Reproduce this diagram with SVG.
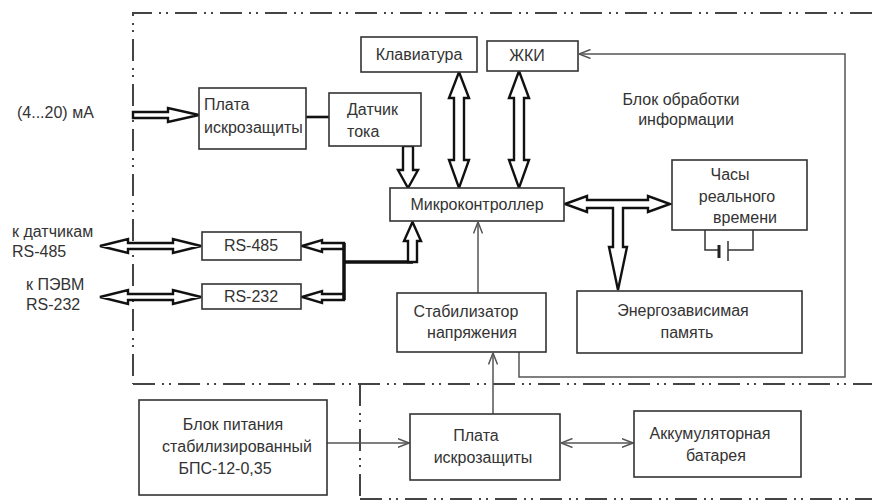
<svg xmlns="http://www.w3.org/2000/svg" width="872" height="502" viewBox="0 0 872 502">
<defs>
<style>
.bx{fill:#fff;stroke:#333;stroke-width:1.6}
.t{font-family:"Liberation Sans","DejaVu Sans",sans-serif;font-size:16px;fill:#333}
.m{text-anchor:middle}
.bd{fill:none;stroke:#444;stroke-width:2;stroke-dasharray:22 7 2 5 2 7}
.blk{fill:#fff;stroke:#111;stroke-width:2.4;stroke-linejoin:miter}
.thk{fill:none;stroke:#111;stroke-width:3.5}
.thin{fill:none;stroke:#555;stroke-width:1.5}
</style>
<marker id="oa" viewBox="0 0 12 10" refX="11.5" refY="5" markerWidth="12" markerHeight="10" markerUnits="userSpaceOnUse" orient="auto-start-reverse">
<path d="M0,0.5 L11.5,5 L0,9.5" fill="none" stroke="#555" stroke-width="1.5"/>
</marker>
</defs>
<rect width="872" height="502" fill="#fff"/>

<g id="borders">
<path class="bd" d="M872,13 H133 V384"/>
<path class="bd" d="M133,384 H872"/>
<path class="bd" d="M360,384 V502"/>
<path class="bd" d="M360,499 H872"/>
</g>

<g id="connectors">
<polygon class="blk" points="133,112 168,112 168,108 199,115 168,122 168,118 133,118"/>
<line x1="306" y1="117" x2="329" y2="117" stroke="#111" stroke-width="2.6"/>
<polygon class="blk" points="403,146 413,146 413,170 418,170 408,188 398,170 403,170"/>
<polygon class="blk" points="459,72 469,98 464,98 464,160 469,160 459,188 449,160 454,160 454,98 449,98"/>
<polygon class="blk" points="519,71 529,98 524,98 524,160 529,160 519,188 509,160 514,160 514,98 509,98"/>
<polygon class="blk" points="565,204 587,196 587,200 648,200 648,196 670,204 648,212 648,208 623,208 623,247 627,247 618,290 609,247 613,247 613,208 587,208 587,212"/>
<polygon class="blk" points="100,246 128,239 128,243 173,243 173,239 201,246 173,253 173,249 128,249 128,253"/>
<polygon class="blk" points="100,297 128,290 128,294 173,294 173,290 201,297 173,304 173,300 128,300 128,304"/>
<polygon class="blk" points="302,246 322,240 322,243 344,243 344,249 322,249 322,252"/>
<polygon class="blk" points="302,297 322,291 322,294 344,294 344,300 322,300 322,303"/>
<path class="thk" d="M344,243 V300 M344,262 H413"/>
<polygon class="blk" points="408,262 408,241 404,241 412.5,222 421,241 417,241 417,262"/>
<path class="thin" d="M478,293 V222" marker-end="url(#oa)"/>
<path class="thin" d="M519,352 V377 H845 V54 H579" marker-end="url(#oa)"/>
<path class="thin" d="M493,414 V353" marker-end="url(#oa)"/>
<path class="thin" d="M327,443 H409" marker-end="url(#oa)"/>
<path class="thin" d="M561,443 H633" marker-start="url(#oa)" marker-end="url(#oa)"/>
</g>

<g id="n-klav"><rect class="bx" x="361" y="37" width="116" height="35"/><text class="t m" x="419" y="60">Клавиатура</text></g>
<g id="n-zhki"><rect class="bx" x="487" y="41" width="91" height="30"/><text class="t m" x="527" y="61">ЖКИ</text></g>
<g id="n-plata1"><rect class="bx" x="199" y="88" width="107" height="61"/><text class="t" x="204" y="110">Плата</text><text class="t" x="204" y="133">искрозащиты</text></g>
<g id="n-datchik"><rect class="bx" x="329" y="93" width="92" height="53"/><text class="t" x="347" y="115">Датчик</text><text class="t" x="347" y="137">тока</text></g>
<g id="n-mk"><rect class="bx" x="390" y="188" width="174" height="33"/><text class="t m" x="477" y="210">Микроконтроллер</text></g>
<g id="n-chasy"><rect class="bx" x="672" y="160" width="135" height="70"/><text class="t m" x="730" y="180">Часы</text><text class="t m" x="737" y="202">реального</text><text class="t m" x="745" y="223">времени</text>
<path d="M705,230 V250 H719 M728,250 H753 V230" fill="none" stroke="#333" stroke-width="1.5"/>
<line x1="719" y1="245" x2="719" y2="258" stroke="#222" stroke-width="3"/>
<line x1="728" y1="241" x2="728" y2="261" stroke="#333" stroke-width="1.5"/>
</g>
<g id="n-rs485"><rect class="bx" x="202" y="232" width="99" height="28"/><text class="t m" x="251" y="251">RS-485</text></g>
<g id="n-rs232"><rect class="bx" x="202" y="284" width="99" height="25"/><text class="t m" x="251" y="302">RS-232</text></g>
<g id="n-stab"><rect class="bx" x="397" y="293" width="149" height="59"/><text class="t m" x="466" y="317">Стабилизатор</text><text class="t m" x="472" y="338">напряжения</text></g>
<g id="n-mem"><rect class="bx" x="577" y="291" width="225" height="62"/><text class="t m" x="683" y="316">Энергозависимая</text><text class="t m" x="687" y="338">память</text></g>
<g id="n-bp"><rect class="bx" x="139" y="400" width="188" height="95"/><text class="t m" x="233" y="430">Блок питания</text><text class="t m" x="237" y="452">стабилизированный</text><text class="t m" x="225" y="474">БПС-12-0,35</text></g>
<g id="n-plata2"><rect class="bx" x="410" y="414" width="150" height="66"/><text class="t m" x="476" y="441">Плата</text><text class="t m" x="483" y="463">искрозащиты</text></g>
<g id="n-akk"><rect class="bx" x="634" y="411" width="167" height="66"/><text class="t m" x="710" y="439">Аккумуляторная</text><text class="t m" x="716" y="461">батарея</text></g>

<g id="labels">
<text class="t" x="17" y="118">(4...20) мА</text>
<text class="t" x="12" y="237">к датчикам</text>
<text class="t" x="12" y="257">RS-485</text>
<text class="t" x="26" y="290">к ПЭВМ</text>
<text class="t" x="26" y="310">RS-232</text>
<text class="t m" x="681" y="105">Блок обработки</text>
<text class="t m" x="686" y="125">информации</text>
</g>
</svg>
